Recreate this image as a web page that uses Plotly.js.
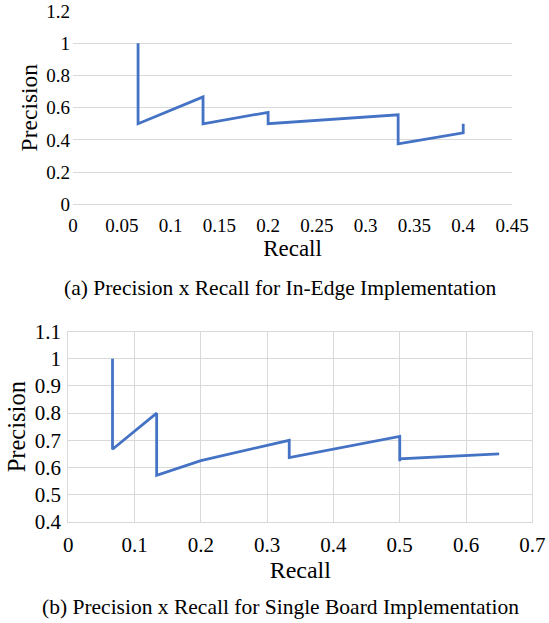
<!DOCTYPE html>
<html>
<head>
<meta charset="utf-8">
<script src="https://cdn.plot.ly/plotly-3.0.1.min.js"></script>
<style>
  html, body { margin: 0; padding: 0; background: #ffffff; }
  #chart { width: 549px; height: 623px; }
</style>
</head>
<body>
<div id="chart"></div>
<script>
// ---- Data ----
// (a) In-Edge implementation
const recallA    = [0.0667, 0.0667, 0.1333, 0.1333, 0.2, 0.2, 0.3333, 0.3333, 0.4, 0.4];
const precisionA = [1.0, 0.5, 0.667, 0.5, 0.571, 0.5, 0.556, 0.375, 0.444, 0.5];
// (b) Single Board implementation
const recallB    = [0.0667, 0.0667, 0.1333, 0.1333, 0.2, 0.3333, 0.3333, 0.5, 0.5, 0.5, 0.65];
const precisionB = [1.0, 0.667, 0.8, 0.571, 0.625, 0.7, 0.636, 0.714, 0.623, 0.632, 0.65];

const xTicksA = [0, 0.05, 0.1, 0.15, 0.2, 0.25, 0.3, 0.35, 0.4, 0.45];
const xTickTextA = ["0", "0.05", "0.1", "0.15", "0.2", "0.25", "0.3", "0.35", "0.4", "0.45"];
const yTicksA = [0, 0.2, 0.4, 0.6, 0.8, 1.0, 1.2];
const yTickTextA = ["0", "0.2", "0.4", "0.6", "0.8", "1", "1.2"];

const xTicksB = [0, 0.1, 0.2, 0.3, 0.4, 0.5, 0.6, 0.7];
const xTickTextB = ["0", "0.1", "0.2", "0.3", "0.4", "0.5", "0.6", "0.7"];
const yTicksB = [0.4, 0.5, 0.6, 0.7, 0.8, 0.9, 1.0, 1.1];
const yTickTextB = ["0.4", "0.5", "0.6", "0.7", "0.8", "0.9", "1", "1.1"];

const captionA = "(a) Precision x Recall for In-Edge Implementation";
const captionB = "(b) Precision x Recall for Single Board Implementation";
const xTitle = "Recall";
const yTitle = "Precision";

// ---- Plot ----
const W = 549, H = 623;
const serif = "Liberation Serif";
const lineColor = "#4472C4";
const gridColor = "#d9d9d9";
const f = (size) => ({ family: serif, size: size, color: "#000000" });

const traces = [
  { x: recallA, y: precisionA, xaxis: "x", yaxis: "y", type: "scatter", mode: "lines",
    line: { color: lineColor, width: 2.8 }, hoverinfo: "skip", showlegend: false },
  { x: recallB, y: precisionB, xaxis: "x2", yaxis: "y2", type: "scatter", mode: "lines",
    line: { color: lineColor, width: 2.8 }, hoverinfo: "skip", showlegend: false }
];

const layout = {
  width: W, height: H,
  margin: { l: 0, r: 0, t: 0, b: 0 },
  paper_bgcolor: "#ffffff", plot_bgcolor: "#ffffff",
  font: f(19),
  showlegend: false,
  xaxis: {
    domain: [73 / W, 512 / W], anchor: "y",
    range: [0, 0.45], tickvals: xTicksA, ticktext: xTickTextA,
    showgrid: false, zeroline: false,
    showline: true, linecolor: gridColor, linewidth: 1,
    ticks: "", tickfont: f(19), ticklabelstandoff: 4,
    title: { text: xTitle, font: f(23), standoff: 1 },
    automargin: false, fixedrange: true
  },
  yaxis: {
    domain: [1 - 204.3 / H, 1 - 11 / H], anchor: "x",
    range: [0, 1.2], tickvals: yTicksA, ticktext: yTickTextA,
    showgrid: true, gridcolor: gridColor, gridwidth: 1, zeroline: false,
    showline: false, ticks: "", tickfont: f(19), ticklabelstandoff: 2,
    title: { text: yTitle, font: f(23.5), standoff: 2 },
    automargin: false, fixedrange: true
  },
  xaxis2: {
    domain: [68.3 / W, 532.3 / W], anchor: "y2",
    range: [0, 0.7], tickvals: xTicksB, ticktext: xTickTextB,
    showgrid: true, gridcolor: gridColor, gridwidth: 1, zeroline: false,
    showline: true, mirror: true, linecolor: gridColor, linewidth: 1,
    ticks: "", tickfont: f(21), ticklabelstandoff: 4,
    title: { text: xTitle, font: f(24), standoff: 0 },
    automargin: false, fixedrange: true
  },
  yaxis2: {
    domain: [1 - 521.7 / H, 1 - 331.7 / H], anchor: "x2",
    range: [0.4, 1.1], tickvals: yTicksB, ticktext: yTickTextB,
    showgrid: true, gridcolor: gridColor, gridwidth: 1, zeroline: false,
    showline: true, mirror: true, linecolor: gridColor, linewidth: 1,
    ticks: "", tickfont: f(21), ticklabelstandoff: 2,
    title: { text: yTitle, font: f(24.5), standoff: 2 },
    automargin: false, fixedrange: true
  },
  annotations: [
    { text: captionA, xref: "paper", yref: "paper", x: 280 / W, y: 1 - 288 / H,
      xanchor: "center", yanchor: "middle", showarrow: false, font: f(21.5) },
    { text: captionB, xref: "paper", yref: "paper", x: 280 / W, y: 1 - 607 / H,
      xanchor: "center", yanchor: "middle", showarrow: false, font: f(21.5) }
  ]
};

Plotly.newPlot("chart", traces, layout, { displayModeBar: false, staticPlot: true });
</script>
</body>
</html>
